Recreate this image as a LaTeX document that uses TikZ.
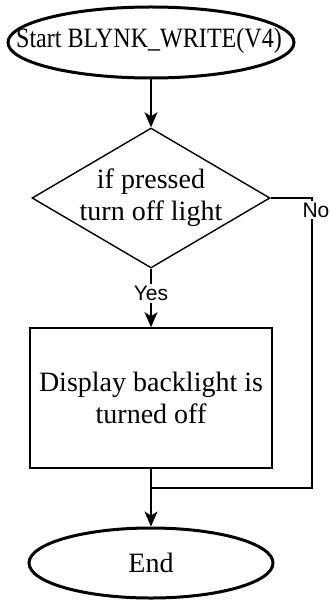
\documentclass[tikz,border=0pt]{standalone}
\usepackage{fontspec}
\setmainfont{Liberation Serif}
\newfontfamily\labelfont{Liberation Sans}
\newfontfamily\narrowserif[FakeStretch=0.86]{Liberation Serif}
\usetikzlibrary{shapes.geometric,arrows.meta}
\begin{document}
\begin{tikzpicture}[x=1pt,y=-1pt,
  txt/.style={font=\fontsize{28}{32}\selectfont, align=center, inner sep=0pt},
  term/.style={draw, ellipse, line width=3pt, fill=white, inner sep=0pt},
  decision/.style={draw, diamond, line width=1.4pt, fill=white, inner sep=0pt},
  procbox/.style={draw, rectangle, line width=1.6pt, fill=white, inner sep=0pt},
  conn/.style={line width=1.5pt},
  arrowconn/.style={conn, -{Stealth[length=15pt,width=13pt,inset=4pt]}},
  lab/.style={fill=white, inner sep=2pt, font=\labelfont\fontsize{21}{24}\selectfont}]
\useasboundingbox (0,0) rectangle (331,601);
\node[term, minimum width=286pt, minimum height=71pt] (start) at (151,42.5) {};
\node[txt, font=\narrowserif\fontsize{28}{32}\selectfont] (starttext) at (149,41) {Start BLYNK\_WRITE(V4)};
\node[decision, minimum width=238pt, minimum height=140pt] (dec) at (151,198) {};
\node[txt] (dectext) at (dec.center) {if pressed\\turn off light};
\node[procbox, minimum width=242pt, minimum height=140pt, txt] (act) at (151,398) {Display backlight is\\turned off};
\node[term, minimum width=244pt, minimum height=70pt] (end) at (151,563) {};
\node[txt] (endtext) at (end.center) {End};
\coordinate (corner) at (312,198);
\coordinate (join) at (151,488);
\draw[arrowconn] (start) -- (dec);
\draw[arrowconn] (dec.south) -- node[lab, pos=0.42] (yes) {Yes} (act.north);
\draw[arrowconn] (act) -- (end);
\draw[conn] (dec.east) -- (corner) -- (corner |- join) -- (join);
\node[lab] (no) at (316,210) {No};
\end{tikzpicture}
\end{document}
